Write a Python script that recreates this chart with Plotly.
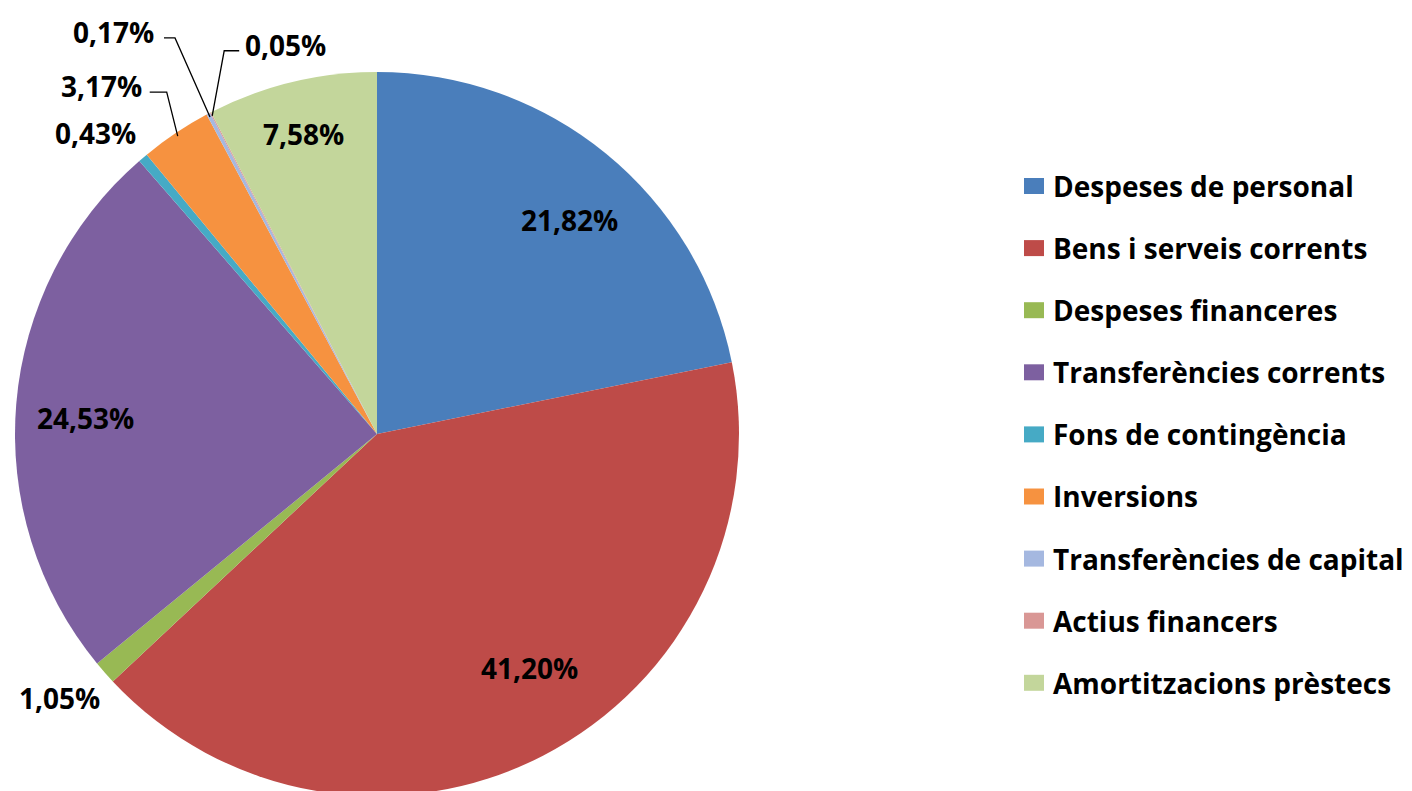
import math
import plotly.graph_objects as go

# ---------------- data ----------------
categories = [
    "Despeses de personal",
    "Bens i serveis corrents",
    "Despeses financeres",
    "Transferències corrents",
    "Fons de contingència",
    "Inversions",
    "Transferències de capital",
    "Actius financers",
    "Amortitzacions prèstecs",
]
shares = [21.82, 41.20, 1.05, 24.53, 0.43, 3.17, 0.17, 0.05, 7.58]
value_labels = ["21,82%", "41,20%", "1,05%", "24,53%", "0,43%", "3,17%", "0,17%", "0,05%", "7,58%"]
colors = ["#4A7EBB", "#BE4B48", "#98B954", "#7D60A0", "#46AAC5",
          "#F69240", "#A5B8E0", "#D99795", "#C3D69B"]

# ---------------- geometry ----------------
W, H = 1412, 791
OFF = 8                              # page body offset in pixels
CX, CY, R = 377, 434, 362           # pie centre / radius in screen pixels
FONT = "Open Sans"
FS = 28

def px_to_paper(x, y):
    return (x - OFF) / W, 1 - (y - OFF) / H

total = sum(shares)
def mid_angle(i):
    start = sum(shares[:i])
    return (start + shares[i] / 2) / total * 360.0

def polar(i, frac):
    a = math.radians(mid_angle(i))
    return CX + frac * R * math.sin(a), CY - frac * R * math.cos(a)

dx0, dy1 = px_to_paper(CX - R, CY - R)
dx1, dy0 = px_to_paper(CX + R, CY + R)

fig = go.Figure(go.Pie(
    labels=categories,
    values=shares,
    sort=False,
    direction="clockwise",
    rotation=0,
    marker=dict(colors=colors, line=dict(width=0)),
    textinfo="none",
    hoverinfo="label+percent",
    showlegend=False,
    domain=dict(x=[dx0, dx1], y=[max(dy0, 0), dy1]),
))

annotations = []
shapes = []
label_font = dict(family=FONT, size=FS, color="#000", weight="bold")

# inside labels (big slices): radial fraction and small pixel nudge
inside = {0: (0.80, (9, 10)), 1: (0.80, (20, -23)), 3: (0.80, (-3, 8)), 8: (0.84, (-2, -5))}
for i, (frac, (sx, sy)) in inside.items():
    x, y = polar(i, frac)
    px, py = px_to_paper(x + sx, y + sy)
    annotations.append(dict(x=px, y=py, xref="paper", yref="paper", text=value_labels[i],
                            showarrow=False, font=label_font,
                            xanchor="center", yanchor="middle"))

# outside labels without leader line: (dx, dy) of text centre from slice edge
plain_out = {2: (-45, 25), 4: (-48, -25)}
for i, (dx, dy) in plain_out.items():
    x, y = polar(i, 1.0)
    px, py = px_to_paper(x + dx, y + dy)
    annotations.append(dict(x=px, y=py, xref="paper", yref="paper", text=value_labels[i],
                            showarrow=False, font=label_font,
                            xanchor="center", yanchor="middle"))

# outside labels with elbow leader lines: elbow offset, line-end offset, text side, gap
leader = {
    5: ((-11, -44), (-28, -44), "right", 6),
    6: ((-35, -79), (-46, -79), "right", 8),
    7: ((12, -65), (27, -65), "left", 4),
}
for i, (elb, end, side, gap) in leader.items():
    x0, y0 = polar(i, 0.99)
    ex, ey = x0 + elb[0], y0 + elb[1]
    tx, ty = x0 + end[0], y0 + end[1]
    pts = [px_to_paper(x0, y0), px_to_paper(ex, ey), px_to_paper(tx, ty)]
    path = "M {} {} L {} {} L {} {}".format(pts[0][0], pts[0][1], pts[1][0], pts[1][1], pts[2][0], pts[2][1])
    shapes.append(dict(type="path", path=path, xref="paper", yref="paper",
                       line=dict(color="#000", width=1.3)))
    off = -gap if side == "right" else gap
    px, py = px_to_paper(tx + off, ty - 6)
    annotations.append(dict(x=px, y=py, xref="paper", yref="paper", text=value_labels[i],
                            showarrow=False, font=label_font,
                            xanchor=side, yanchor="middle"))

# manual legend
LX, LY0, LDY = 1024, 186, 62.1
for k, (name, col) in enumerate(zip(categories, colors)):
    yc = LY0 + k * LDY
    x0p, y0p = px_to_paper(LX, yc - 8)
    x1p, y1p = px_to_paper(LX + 20, yc + 8)
    shapes.append(dict(type="rect", xref="paper", yref="paper", x0=x0p, x1=x1p, y0=y1p, y1=y0p,
                       fillcolor=col, line=dict(width=0)))
    tx, ty = px_to_paper(LX + 27, yc)
    annotations.append(dict(x=tx, y=ty, xref="paper", yref="paper", text=name, showarrow=False,
                            font=label_font, xanchor="left", yanchor="middle"))

fig.update_layout(
    width=W, height=H,
    margin=dict(l=0, r=0, t=0, b=0),
    paper_bgcolor="white", plot_bgcolor="white",
    annotations=annotations, shapes=shapes,
    showlegend=False,
)

fig.write_html("out.html")
